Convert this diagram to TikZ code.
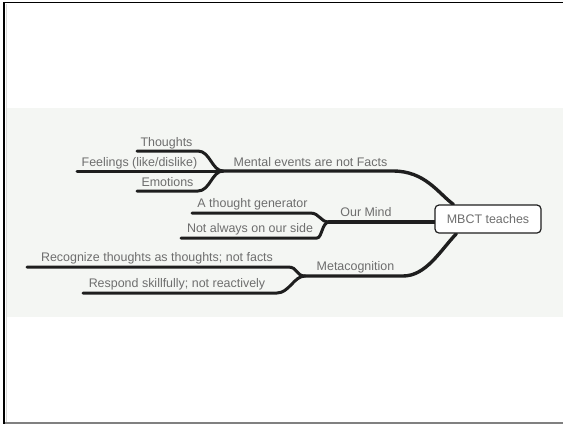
\documentclass[tikz,border=0pt]{standalone}
\usepackage{fontspec}
\setmainfont{Liberation Sans}
\usetikzlibrary{calc,backgrounds}
\definecolor{band}{HTML}{F4F6F3}
\definecolor{ink}{HTML}{1E1E1E}
\definecolor{labelgray}{HTML}{6E6E6E}
\tikzset{
  lbl/.style={font=\fontsize{12.5}{14}\selectfont, text=labelgray, inner sep=0pt, anchor=base},
  limb/.style={draw=ink, line width=3bp, line cap=round, line join=round},
  trunk/.style={limb, line width=3.4bp},
  topicbox/.style={draw=ink, line width=1.2bp, fill=white, rounded corners=4bp,
    minimum width=106bp, minimum height=28bp, inner sep=0pt,
    font=\fontsize{12.5}{14}\selectfont, text=labelgray}
}
\begin{document}
\begin{tikzpicture}[x=1bp,y=-1bp]
\useasboundingbox (0,0) rectangle (563,424);

% central topic
\node[topicbox] (mbct) at (488,219) {MBCT teaches};

% labels
\node[lbl] (mental)   at (310.5,166) {Mental events are not Facts};
\node[lbl] (thoughts) at (166.5,146) {Thoughts};
\node[lbl] (feelings) at (139.5,166) {Feelings (like/dislike)};
\node[lbl] (emotions) at (167.5,186) {Emotions};
\node[lbl] (mind)     at (366,216.5) {Our Mind};
\node[lbl] (gen)      at (252.5,207.5) {A thought generator};
\node[lbl] (side)     at (250,232.5) {Not always on our side};
\node[lbl] (meta)     at (355.5,270) {Metacognition};
\node[lbl] (recog)    at (157,261.5) {Recognize thoughts as thoughts; not facts};
\node[lbl] (respond)  at (177,287.5) {Respond skillfully; not reactively};

% branch junctions and free ends of the leaf lines
\coordinate (jMental) at (223,171);
\coordinate (jMind)   at (329,222);
\coordinate (jMeta)   at (305,276);
\coordinate (thoughtsL) at (137,151);
\coordinate (feelingsL) at (77,171);
\coordinate (emotionsL) at (137,191);
\coordinate (genL)      at (192,213);
\coordinate (sideL)     at (181,238);
\coordinate (recogL)    at (27,267);
\coordinate (respondL)  at (83,293);

\begin{scope}[on background layer]
  % page frame and band
  \fill[band] (6,108) rectangle (563,316.5);
  \draw[black, line width=2bp] (4,2) -- (4,424);
  \draw[black, line width=1.5bp] (3,2.5) -- (563,2.5);
  \draw[black!15, line width=1bp] (6,4) -- (6,422);
  \draw[black!50, line width=1.5bp] (5,423) -- (563,423);

  % main branches
  \draw[trunk] (jMental) -- (393,171)
    .. controls (425,171) and (438,193) .. ($(mbct.north west)+(19,0)$);
  \draw[trunk] (jMind) -- (mbct.west |- jMind);
  \draw[trunk] (jMeta) -- (403,276)
    .. controls (426,276) and (440,251) .. ($(mbct.south west)+(22,0)$);

  % leaves of "Mental events are not Facts"
  \draw[limb] (thoughtsL) -- (198,151) .. controls (210,151) and (212,171) .. (jMental);
  \draw[limb] (feelingsL) -- (jMental);
  \draw[limb] (emotionsL) -- (198,191) .. controls (210,191) and (212,171) .. (jMental);

  % leaves of "Our Mind"
  \draw[limb] (genL) -- (310,213) .. controls (320,213) and (320,222) .. (jMind);
  \draw[limb] (sideL) -- (317,238) .. controls (322,238) and (322,222) .. (jMind);

  % leaves of "Metacognition"
  \draw[limb] (recogL) -- (288,267) .. controls (298,267) and (296,276) .. (jMeta);
  \draw[limb] (respondL) -- (277,293) .. controls (289,293) and (294,276) .. (jMeta);
\end{scope}
\end{tikzpicture}
\end{document}
